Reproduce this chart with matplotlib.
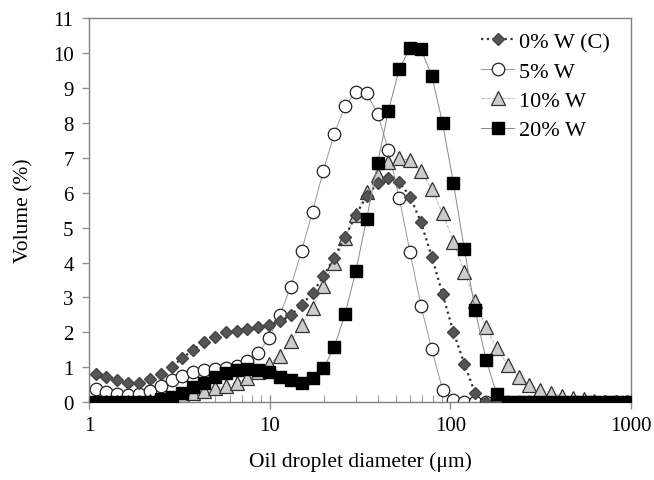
import matplotlib
matplotlib.use("Agg")
import matplotlib.pyplot as plt
from matplotlib.ticker import LogLocator, NullFormatter, FixedLocator

plt.rcParams['font.family'] = ['Liberation Serif', 'DejaVu Serif']

# droplet size classes (um)
size = [1.089, 1.250, 1.435, 1.648, 1.892, 2.173, 2.495, 2.864, 3.289, 3.776,
        4.335, 4.977, 5.715, 6.561, 7.534, 8.650, 9.931, 11.40, 13.09, 15.03,
        17.26, 19.82, 22.76, 26.13, 30.00, 34.44, 39.54, 45.40, 52.13, 59.85,
        68.71, 78.89, 90.58, 104.0, 119.4, 137.1, 157.4, 180.7, 207.5, 238.2,
        273.5, 314.1, 360.6, 414.0, 475.3, 545.8, 626.6, 719.4, 826.0, 948.4]

w0 = [0.80, 0.71, 0.63, 0.54, 0.54, 0.66, 0.80, 1.01, 1.26, 1.50,
      1.73, 1.87, 2.00, 2.04, 2.09, 2.14, 2.21, 2.31, 2.49, 2.78,
      3.13, 3.60, 4.14, 4.73, 5.36, 5.91, 6.27, 6.42, 6.31, 5.89,
      5.15, 4.17, 3.09, 2.00, 1.10, 0.25, 0, 0, 0, 0,
      0, 0, 0, 0, 0, 0, 0, 0, 0, 0]

w5 = [0.37, 0.28, 0.23, 0.21, 0.23, 0.32, 0.47, 0.63, 0.75, 0.85,
      0.92, 0.95, 0.99, 1.04, 1.17, 1.42, 1.83, 2.50, 3.31, 4.34,
      5.46, 6.63, 7.68, 8.49, 8.89, 8.85, 8.27, 7.22, 5.85, 4.29,
      2.76, 1.52, 0.35, 0.05, 0, 0, 0, 0, 0, 0,
      0, 0, 0, 0, 0, 0, 0, 0, 0, 0]

w10 = [0, 0, 0, 0, 0, 0.02, 0.06, 0.12, 0.19, 0.25,
       0.33, 0.40, 0.47, 0.56, 0.70, 0.85, 1.10, 1.33, 1.76, 2.20,
       2.71, 3.34, 4.00, 4.71, 5.37, 6.01, 6.51, 6.87, 6.99, 6.93,
       6.63, 6.10, 5.41, 4.60, 3.73, 2.90, 2.14, 1.54, 1.06, 0.72,
       0.50, 0.36, 0.26, 0.18, 0.13, 0.08, 0.03, 0, 0, 0]

w20 = [0, 0, 0, 0, 0, 0, 0.10, 0.15, 0.26, 0.42,
       0.56, 0.71, 0.83, 0.92, 0.95, 0.92, 0.85, 0.72, 0.63, 0.56,
       0.68, 0.97, 1.57, 2.52, 3.76, 5.26, 6.85, 8.35, 9.54, 10.16,
       10.11, 9.35, 7.99, 6.27, 4.38, 2.64, 1.21, 0.23, 0, 0,
       0, 0, 0, 0, 0, 0, 0, 0, 0, 0]

fig = plt.figure(figsize=(6.54, 4.81), dpi=100)
ax = fig.add_axes([0.136, 0.162, 0.829, 0.798])

ax.plot(size, w0, color='#333333', linestyle=':', linewidth=1.6,
        marker='D', markersize=6, markerfacecolor='#555555',
        markeredgecolor='#444444', label='0% W (C)', zorder=3)
ax.plot(size, w5, color='#999999', linestyle='-', linewidth=0.7,
        marker='o', markersize=9, markerfacecolor='white',
        markeredgecolor='#222222', markeredgewidth=0.9, label='5% W', zorder=2)
ax.plot(size, w10, color='#b5b5b5', linestyle='--', linewidth=0.7,
        marker='^', markersize=9.5, markerfacecolor='#cccccc',
        markeredgecolor='#333333', markeredgewidth=0.9, label='10% W', zorder=2)
ax.plot(size, w20, color='#888888', linestyle='-', linewidth=0.7,
        marker='s', markersize=8, markerfacecolor='black',
        markeredgecolor='black', label='20% W', zorder=4)

ax.set_xscale('log')
ax.set_xlim(1, 1000)
ax.set_ylim(0, 11)
ax.yaxis.set_major_locator(FixedLocator(range(0, 12)))
ax.xaxis.set_major_locator(FixedLocator([1, 10, 100, 1000]))
ax.xaxis.set_minor_locator(LogLocator(base=10, subs=range(2, 10)))
ax.xaxis.set_minor_formatter(NullFormatter())
ax.set_xticklabels(['1', '10', '100', '1000'])

for sp in ax.spines.values():
    sp.set_color('#808080')
    sp.set_linewidth(1.0)

ax.tick_params(axis='x', which='major', direction='inout', length=10, width=1,
               color='#909090', labelsize=15, pad=5)
ax.tick_params(axis='x', which='minor', direction='in', length=5, width=0.8,
               color='#a0a0a0')
ax.tick_params(axis='y', which='major', direction='out', length=5, width=1,
               color='#909090', labelsize=15, pad=6)

ax.set_xlabel('Oil droplet diameter (\u03bcm)', fontsize=15.5, labelpad=12)
ax.set_ylabel('Volume (%)', fontsize=15.5, labelpad=14)

ax.legend(loc='upper right', frameon=False, fontsize=16, handlelength=1.5,
          handletextpad=0.2, labelspacing=0.4, borderaxespad=0.2,
          bbox_to_anchor=(0.985, 1.0))

fig.savefig('out.png', dpi=100)
